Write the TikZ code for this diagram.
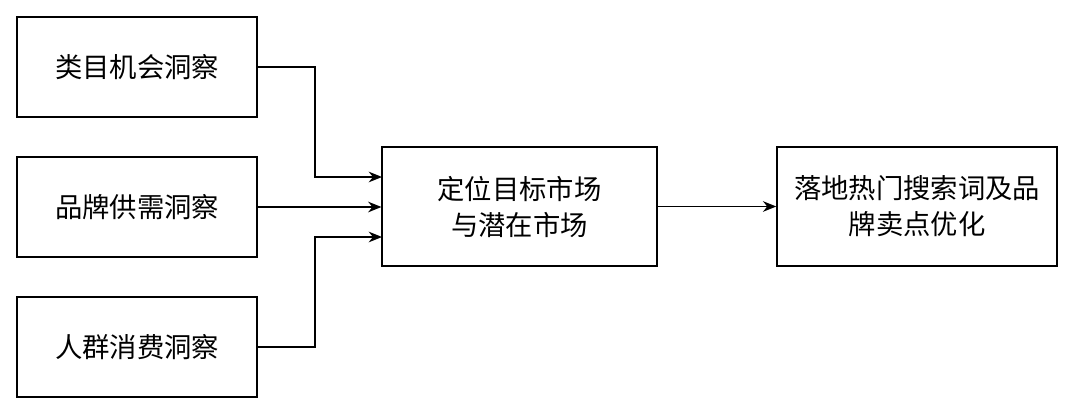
\documentclass[tikz,border=0pt]{standalone}
\usepackage{fontspec}
\setmainfont{Noto Sans CJK SC}
\usetikzlibrary{arrows.meta}
\begin{document}
\begin{tikzpicture}[
	x=0.75pt, y=-0.75pt,
	box/.style = {draw, line width=1.1pt, minimum width=180pt, minimum height=75pt, align=center, font=\fontsize{20.5}{27}\selectfont},
	wide/.style = {box, minimum width=206pt, minimum height=89pt},
	link/.style = {line width=1.1pt, -{Stealth[length=10pt,width=8pt]}}
]
\useasboundingbox (0,0) rectangle (1074,414);
\node[box] (cat) at (137,67) {类目机会洞察};
\node[box] (brand) at (137,207) {品牌供需洞察};
\node[box] (crowd) at (137,347) {人群消费洞察};
\node[wide] (target) at (519.5,206.5) {定位目标市场\\与潜在市场};
\node[wide, minimum width=210pt] (land) at (917,206.5) {落地热门搜索词及品\\牌卖点优化};
% connectors
\coordinate (in1) at (382,177);
\coordinate (in3) at (382,237);
\draw[link] (cat.east) -| (315,177) -- (in1);
\draw[link] (brand.east) -- (target.west |- brand.east);
\draw[link] (crowd.east) -| (315,237) -- (in3);
\draw[link] (target.east) -- (land.west);
\end{tikzpicture}
\end{document}
